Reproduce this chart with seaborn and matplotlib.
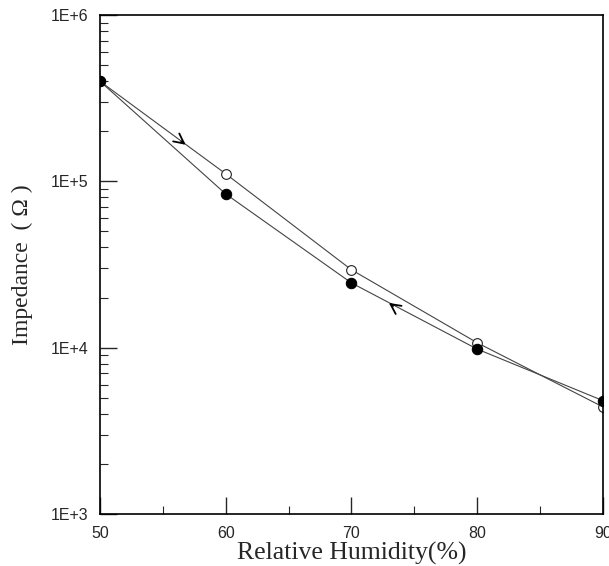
import numpy as np
import pandas as pd
import matplotlib
matplotlib.use("Agg")
import matplotlib.pyplot as plt
import seaborn as sns
from matplotlib.ticker import FixedLocator, NullFormatter, FixedFormatter

# data
humidity = [50, 60, 70, 80, 90]
z_adsorption = [4.0e5, 1.11e5, 2.94e4, 1.07e4, 4.4e3]   # open circles
z_desorption = [4.0e5, 8.4e4, 2.45e4, 9.8e3, 4.8e3]     # filled circles
y_ticks = [1e3, 1e4, 1e5, 1e6]
y_tick_labels = ["1E+3", "1E+4", "1E+5", "1E+6"]
x_ticks = [50, 60, 70, 80, 90]

sns.set_style("ticks")
plt.rcParams["font.family"] = ["Liberation Sans", "DejaVu Sans"]

fig = plt.figure(figsize=(6.09, 5.66), dpi=100)
ax = fig.add_axes([0.164, 0.092, 0.826, 0.8815])

df_a = pd.DataFrame({"rh": humidity, "z": z_adsorption})
df_d = pd.DataFrame({"rh": humidity, "z": z_desorption})

sns.lineplot(data=df_a, x="rh", y="z", ax=ax, color="#444444", lw=0.8,
             marker="o", markersize=7, markerfacecolor="white",
             markeredgecolor="#222222", markeredgewidth=0.8)
sns.lineplot(data=df_d, x="rh", y="z", ax=ax, color="#444444", lw=0.8,
             marker="o", markersize=7.5, markerfacecolor="black",
             markeredgecolor="black")

ax.set_yscale("log")
ax.set_xlim(50, 90)
ax.set_ylim(1e3, 1e6)

ax.yaxis.set_major_locator(FixedLocator(y_ticks))
ax.yaxis.set_major_formatter(FixedFormatter(y_tick_labels))
ax.yaxis.set_minor_locator(FixedLocator(
    [m * 10 ** e for e in range(3, 6) for m in range(2, 10)]))
ax.yaxis.set_minor_formatter(NullFormatter())

ax.set_xticks(x_ticks)
ax.set_xticks([55, 65, 75, 85], minor=True)

ax.tick_params(which="major", direction="in", length=12, width=1,
               labelsize=11.5, right=False, top=False)
ax.tick_params(axis="x", which="major", pad=9)
ax.tick_params(axis="y", which="major", pad=8)
ax.tick_params(which="minor", direction="in", length=6, width=0.8)
for s in ax.spines.values():
    s.set_linewidth(1.2)
    s.set_color("black")

# direction arrows
ax.annotate("", xy=(57.0, 1.62e5), xytext=(56.3, 1.78e5),
            arrowprops=dict(arrowstyle="->", color="black", lw=1.3,
                            mutation_scale=18))
ax.annotate("", xy=(72.8, 1.9e4), xytext=(73.5, 1.74e4),
            arrowprops=dict(arrowstyle="->", color="black", lw=1.3,
                            mutation_scale=18))

ax.set_xlabel("Relative Humidity(%)", family="Liberation Serif", fontsize=18.5,
              labelpad=0)
ax.set_ylabel("Impedance  ( Ω )", family="Liberation Serif", fontsize=17,
              labelpad=13)

fig.savefig("out.png", dpi=100)
